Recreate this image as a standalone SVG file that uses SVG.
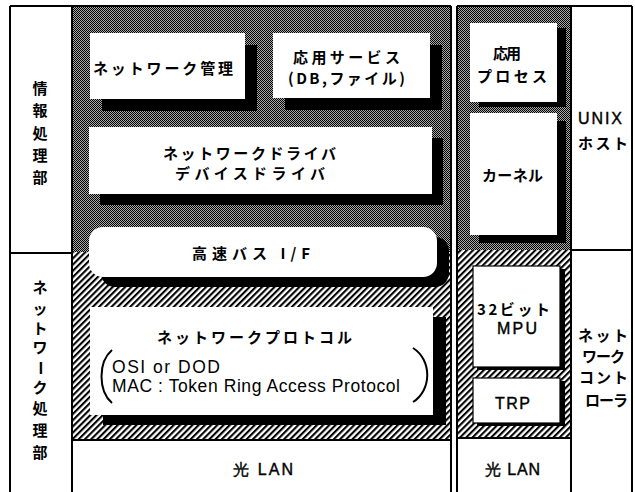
<svg xmlns="http://www.w3.org/2000/svg" width="635" height="492" viewBox="0 0 635 492">
<defs>
<pattern id="dots" width="2" height="2" patternUnits="userSpaceOnUse"><rect width="2" height="2" fill="#a8a8a8"/><rect width="1" height="1" fill="#000" shape-rendering="crispEdges"/><rect x="1" y="1" width="1" height="1" fill="#000" shape-rendering="crispEdges"/></pattern>
<pattern id="hatch" width="4.4" height="10" patternUnits="userSpaceOnUse" patternTransform="rotate(45)"><rect width="4.4" height="10" fill="#fff"/><rect width="2.1" height="10" fill="#000"/></pattern>
</defs>
<style>
.ln{stroke:#000;stroke-width:2;fill:none}
.box{fill:#fff}
.rbox{fill:#fff;stroke:#000;stroke-width:1.2}
.sh{fill:#000}
.jp{font-family:"Noto Sans CJK JP","Noto Sans",sans-serif;font-weight:700;font-size:15px;fill:#000}
.jv{font-family:"Noto Sans CJK JP","Noto Sans",sans-serif;font-weight:700;font-size:15px;fill:#000;text-anchor:middle}
.lt{font-family:"Liberation Sans",Arial,sans-serif;font-size:17.5px;fill:#000}
.lm{font-family:"Liberation Sans",Arial,sans-serif;font-size:16px;fill:#000;stroke:#000;stroke-width:0.4}
</style>
<rect width="635" height="492" fill="#fff"/>
<g id="backgrounds">
<rect x="72" y="6" width="379" height="246" fill="url(#dots)"/>
<rect x="72" y="252" width="379" height="188" fill="url(#hatch)"/>
<rect x="457" y="6" width="114" height="244" fill="url(#dots)"/>
<rect x="457" y="250" width="114" height="188" fill="url(#hatch)"/>
</g>
<g id="frame">
<path class="ln" d="M10 6H451M10 6V492M72 6V492M451 6V492M72 440H451M10 253H72"/>
<path class="ln" d="M457 6H632M457 6V492M571 6V492M632 6V492M457 438H571M571 250H632"/>
</g>
<g id="label-info">
<text class="jv" x="40" y="93.5">情</text>
<text class="jv" x="40" y="115.5">報</text>
<text class="jv" x="40" y="138.5">処</text>
<text class="jv" x="40" y="160.5">理</text>
<text class="jv" x="40" y="182.5">部</text>
</g>
<g id="label-net">
<text class="jv" x="40" y="292.5">ネ</text>
<text class="jv" x="40" y="313.5">ッ</text>
<text class="jv" x="40" y="333.5">ト</text>
<text class="jv" x="40" y="352.5">ワ</text>
<text class="jv" transform="rotate(90 40 368)" x="40" y="373.5">ー</text>
<text class="jv" x="40" y="392.5">ク</text>
<text class="jv" x="40" y="413.5">処</text>
<text class="jv" x="40" y="435.5">理</text>
<text class="jv" x="40" y="457.5">部</text>
</g>
<g id="net-mgmt">
<rect class="sh" x="102" y="45" width="155" height="66"/>
<rect class="box" x="90" y="33" width="155" height="66"/>
<text class="jp" x="93" y="73.5" textLength="140" lengthAdjust="spacing">ネットワーク管理</text>
</g>
<g id="app-service">
<rect class="sh" x="285" y="45" width="157" height="65"/>
<rect class="box" x="273" y="33" width="157" height="65"/>
<text class="jp" x="293" y="62.5" textLength="107" lengthAdjust="spacing">応用サービス</text>
<text class="jp" x="288" y="84" textLength="117" lengthAdjust="spacing">(DB,ファイル)</text>
</g>
<g id="driver">
<rect class="sh" x="100" y="138" width="343" height="67"/>
<rect class="box" x="89" y="127" width="343" height="67"/>
<text class="jp" x="163" y="158.5" textLength="173" lengthAdjust="spacing">ネットワークドライバ</text>
<text class="jp" x="175" y="179" textLength="150" lengthAdjust="spacing">デバイスドライバ</text>
</g>
<g id="bus">
<rect class="sh" x="101" y="237" width="348" height="50" rx="14"/>
<rect class="box" x="89" y="227" width="348" height="50" rx="14"/>
<text class="jp" x="192" y="258.5" textLength="118" lengthAdjust="spacing">高速バス I/F</text>
</g>
<g id="protocol">
<rect class="sh" x="103" y="317" width="343" height="108"/>
<rect class="box" x="90" y="307" width="343" height="108"/>
<text class="jp" x="157" y="342.5" textLength="195" lengthAdjust="spacing">ネットワークプロトコル</text>
<text class="lt" x="112" y="372.5" textLength="108" lengthAdjust="spacing">OSI  or  DOD</text>
<text class="lt" x="112" y="391.5" textLength="288" lengthAdjust="spacing">MAC : Token Ring Access Protocol</text>
<path class="ln" d="M112 350C98 362 98 391 112 403"/>
<path class="ln" d="M413 348C432 360 432 390 413 402"/>
</g>
<g id="lan-main">
<text class="lm" x="233" y="474.5" textLength="60" lengthAdjust="spacing">光 LAN</text>
</g>
<g id="app-process">
<rect class="sh" x="479" y="28" width="87" height="79"/>
<rect class="box" x="470" y="23" width="87" height="79"/>
<text class="jp" x="493" y="58.5" textLength="28" lengthAdjust="spacing">応用</text>
<text class="jp" x="477" y="81.5" textLength="70" lengthAdjust="spacing">プロセス</text>
</g>
<g id="kernel">
<rect class="sh" x="479" y="121" width="87" height="122"/>
<rect class="box" x="470" y="113" width="87" height="122"/>
<text class="jp" x="482" y="180.5" textLength="61" lengthAdjust="spacing">カーネル</text>
</g>
<g id="unix-host">
<text class="lm" x="578" y="124" textLength="44" lengthAdjust="spacing">UNIX</text>
<text class="jp" x="578" y="148.5" textLength="50" lengthAdjust="spacing">ホスト</text>
</g>
<g id="mpu">
<rect class="sh" x="477" y="269" width="88" height="101"/>
<rect class="rbox" x="473" y="266" width="87" height="101"/>
<text class="jp" x="477" y="314.5" textLength="73" lengthAdjust="spacing">32ビット</text>
<text class="lm" x="497" y="334" textLength="40" lengthAdjust="spacing">MPU</text>
</g>
<g id="trp">
<rect class="sh" x="477" y="381" width="88" height="45"/>
<rect class="rbox" x="473" y="378" width="87" height="45"/>
<text class="lm" x="495" y="409" textLength="35" lengthAdjust="spacing">TRP</text>
</g>
<g id="net-controller">
<text class="jp" x="578" y="340.5" textLength="50" lengthAdjust="spacing">ネット</text>
<text class="jp" x="582" y="361.5" textLength="43" lengthAdjust="spacing">ワーク</text>
<text class="jp" x="579" y="382.5" textLength="49" lengthAdjust="spacing">コント</text>
<text class="jp" x="585" y="405.5" textLength="43" lengthAdjust="spacing">ローラ</text>
</g>
<g id="lan-right">
<text class="lm" x="485" y="475" textLength="55" lengthAdjust="spacing">光 LAN</text>
</g>
<g id="connectors"></g>
</svg>
